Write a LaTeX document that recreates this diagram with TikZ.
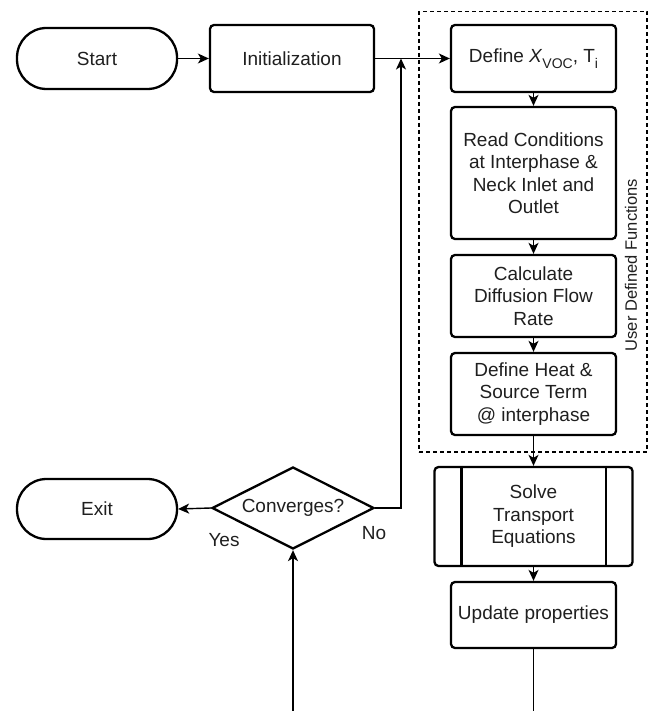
\documentclass[tikz,border=0pt]{standalone}
\usepackage{fontspec}
\setmainfont{Liberation Sans}
\usetikzlibrary{arrows.meta,shapes.geometric}
\newcommand{\mysub}[1]{\raisebox{-0.3em}{\fontsize{14}{14}\selectfont #1}}
\begin{document}
\begin{tikzpicture}[x=1pt,y=-1pt,
  txt/.style={font=\fontsize{19}{22.5}\selectfont, text=black!88},
  box/.style={txt, draw, line width=2.3pt, rounded corners=4pt, minimum width=165pt, align=center, inner sep=2pt},
  term/.style={txt, draw, line width=2.3pt, rounded corners=29.5pt, minimum width=160pt},
  conn/.style={line width=1.4pt, -{Stealth[length=11pt,width=10pt,inset=3pt]}},
  plain/.style={line width=1.4pt},
  ]
\useasboundingbox (0,0) rectangle (650,711);
% dashed container
\node[draw, dashed, line width=1.3pt, dash pattern=on 4pt off 3pt, minimum width=228pt, minimum height=440.5pt, inner sep=0pt] (ud) at (533,231.75) {};
\node[rotate=90, font=\fontsize{16.5}{18}\selectfont, text=black!88] (udf) at (631,265) {User Defined Functions};
% nodes
\node[term, minimum height=61pt] (start) at (97,58.5) {Start};
\node[box, minimum width=164pt, minimum height=67pt] (init) at (292,58.5) {Initialization};
\node[box, minimum height=67pt] (def) at (533.5,58.5) {Define \textit{X}\mysub{VOC}, T\mysub{i}};
\node[box, minimum height=132pt] (read) at (533.5,173) {Read Conditions\\at Interphase \&\\Neck Inlet and\\Outlet};
\node[box, minimum height=82pt] (calc) at (533.5,296) {Calculate\\Diffusion Flow\\Rate};
\node[box, minimum height=82pt] (heat) at (533.5,394) {Define Heat \&\\Source Term\\@ interphase};
\node[box, minimum width=198pt, minimum height=99pt] (solve) at (533.5,516.5) {Solve\\Transport\\Equations};
\draw[line width=2.3pt] ([xshift=28pt]solve.north west) -- ([xshift=28pt]solve.south west);
\draw[line width=2.3pt] ([xshift=-28pt]solve.north east) -- ([xshift=-28pt]solve.south east);
\node[box, minimum height=66pt] (upd) at (533.5,615) {Update properties};
\node[txt, diamond, draw, line width=2.3pt, shape aspect=2, minimum width=162pt, minimum height=82pt, inner sep=0pt] (conv) at (293,508) {Converges?};
\node[term, minimum height=60pt] (exit) at (97,509) {Exit};
\node[txt] (yes) at (224,540) {Yes};
\node[txt] (no) at (374,533) {No};
% connectors
\coordinate (j) at (401,58.5);
\coordinate (b1) at (533.5,711);
\coordinate (b2) at (293,711);
\draw[conn] (start) -- (init);
\draw[conn] (init) -- (def);
\draw[conn] (conv.east) -| (j);
\draw[conn] (def) -- (read);
\draw[conn] (read) -- (calc);
\draw[conn] (calc) -- (heat);
\draw[conn] (heat) -- (solve);
\draw[conn] (solve) -- (upd);
\draw[plain] (upd) -- (b1);
\draw[conn] (b2) -- (conv.south);
\draw[conn] (conv.west) -- (exit.east);
\end{tikzpicture}
\end{document}
